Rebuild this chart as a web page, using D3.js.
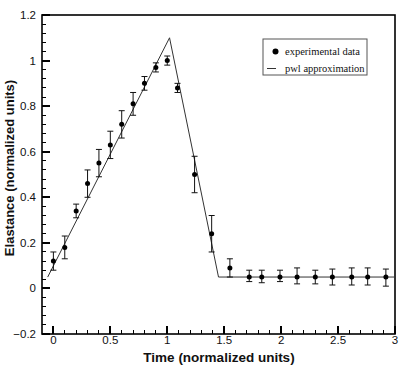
<!DOCTYPE html>
<html>
<head>
<meta charset="utf-8">
<script src="https://cdnjs.cloudflare.com/ajax/libs/d3/7.8.5/d3.min.js"></script>
<style>
  body { margin: 0; background: #fff; }
  svg { display: block; }
</style>
</head>
<body>
<svg id="chart" width="401" height="372"></svg>
<script>
// experimental data: time, elastance, error half-widths
let times  = [0.00, 0.10, 0.20, 0.30, 0.40, 0.50, 0.60, 0.70, 0.80, 0.90, 1.00, 1.09, 1.24, 1.39, 1.55, 1.72, 1.83, 1.99, 2.14, 2.30, 2.45, 2.62, 2.76, 2.92]
let values = [0.12, 0.18, 0.34, 0.46, 0.55, 0.63, 0.72, 0.81, 0.90, 0.97, 1.00, 0.88, 0.50, 0.24, 0.09, 0.05, 0.05, 0.05, 0.05, 0.05, 0.05, 0.05, 0.05, 0.05]
let errUp  = [0.04, 0.05, 0.03, 0.06, 0.06, 0.06, 0.06, 0.05, 0.03, 0.02, 0.02, 0.02, 0.08, 0.08, 0.04, 0.03, 0.03, 0.03, 0.04, 0.03, 0.035, 0.04, 0.04, 0.035]
let errDn  = [0.04, 0.05, 0.03, 0.06, 0.06, 0.06, 0.06, 0.05, 0.03, 0.02, 0.02, 0.02, 0.08, 0.08, 0.04, 0.02, 0.025, 0.02, 0.03, 0.03, 0.035, 0.035, 0.035, 0.04]

// piecewise linear approximation
let pwlT = [-0.05, 1.02, 1.45, 3.0]
let pwlE = [0.05, 1.10, 0.05, 0.05]

let xTicks = [0, 0.5, 1, 1.5, 2, 2.5, 3]
let yTicks = [-0.2, 0, 0.2, 0.4, 0.6, 0.8, 1, 1.2]

let svg = d3.select("#chart")
let margin = { top: 15, right: 6, bottom: 38, left: 42 }
let width = 401 - margin.left - margin.right
let height = 372 - margin.top - margin.bottom

let x = d3.scaleLinear().domain([-0.1, 3]).range([0, width])
let y = d3.scaleLinear().domain([-0.2, 1.2]).range([height, 0])

let g = svg.append('g').attr('transform', `translate(${margin.left},${margin.top})`)

let sans = 'Liberation Sans, Arial, sans-serif'

/* ---------------- ticks (inward) ---------------- */

let xMinor = d3.range(0, 30).map(i => i / 10).filter(v => Math.abs(v * 2 - Math.round(v * 2)) > 1e-6)
let yMinor = d3.range(-5, 31).map(i => i * 0.04).filter(v => Math.abs(v * 5 - Math.round(v * 5)) > 1e-6 && v > -0.2 && v < 1.2)

let ticks = g.append('g').attr('stroke', '#000').attr('shape-rendering', 'crispEdges')
ticks.selectAll('.xmaj').data(xTicks).enter().append('line')
    .attr('x1', d => x(d)).attr('x2', d => x(d)).attr('y1', height).attr('y2', height - 8)
    .attr('stroke-width', 2)
ticks.selectAll('.xmin').data(xMinor).enter().append('line')
    .attr('x1', d => x(d)).attr('x2', d => x(d)).attr('y1', height).attr('y2', height - 4)
    .attr('stroke-width', 1)
ticks.selectAll('.ymaj').data(yTicks).enter().append('line')
    .attr('y1', d => y(d)).attr('y2', d => y(d)).attr('x1', 0).attr('x2', 8)
    .attr('stroke-width', 2)
ticks.selectAll('.ymin').data(yMinor).enter().append('line')
    .attr('y1', d => y(d)).attr('y2', d => y(d)).attr('x1', 0).attr('x2', 4)
    .attr('stroke-width', 1)

g.append('g').selectAll('text').data(xTicks).enter().append('text')
    .attr('x', d => x(d)).attr('y', height + 10)
    .attr('text-anchor', 'middle')
    .attr('font-family', sans).attr('font-size', 11.5).attr('fill', '#111')
    .text(d3.format(''))

g.append('g').selectAll('text').data(yTicks).enter().append('text')
    .attr('x', -6).attr('y', d => y(d)).attr('dy', '0.35em')
    .attr('text-anchor', 'end')
    .attr('font-family', sans).attr('font-size', 11.5).attr('fill', '#111')
    .text(d3.format(''))

// frame
g.append('rect').attr('x', 0).attr('y', 0).attr('width', width).attr('height', height)
    .attr('fill', 'none').attr('stroke', '#000').attr('stroke-width', 1.6)

/* ---------------- pwl line ---------------- */

let line = d3.line().x(d => x(d[0])).y(d => y(d[1]))
g.append('path').datum(d3.zip(pwlT, pwlE))
    .attr('d', line).attr('fill', 'none').attr('stroke', '#333').attr('stroke-width', 1)

/* ---------------- error bars + points ---------------- */

let data = times.map((t, i) => ({ t: t, v: values[i], up: errUp[i], dn: errDn[i] }))
let bars = g.append('g').attr('stroke', '#111').attr('stroke-width', 1)
bars.selectAll('.stem').data(data).enter().append('line')
    .attr('x1', d => x(d.t)).attr('x2', d => x(d.t))
    .attr('y1', d => y(d.v + d.up)).attr('y2', d => y(d.v - d.dn))
bars.selectAll('.capt').data(data).enter().append('line')
    .attr('x1', d => x(d.t) - 3).attr('x2', d => x(d.t) + 3)
    .attr('y1', d => y(d.v + d.up)).attr('y2', d => y(d.v + d.up))
bars.selectAll('.capb').data(data).enter().append('line')
    .attr('x1', d => x(d.t) - 3).attr('x2', d => x(d.t) + 3)
    .attr('y1', d => y(d.v - d.dn)).attr('y2', d => y(d.v - d.dn))

g.append('g').selectAll('circle').data(data).enter().append('circle')
    .attr('cx', d => x(d.t)).attr('cy', d => y(d.v)).attr('r', 2.5).attr('fill', '#000')

/* ---------------- legend ---------------- */

let legend = svg.append('g').attr('transform', 'translate(263,39)')
legend.append('rect').attr('width', 104).attr('height', 36)
    .attr('fill', '#fff').attr('stroke', '#555').attr('stroke-width', 1)
legend.append('circle').attr('cx', 12.5).attr('cy', 12.5).attr('r', 3).attr('fill', '#000')
legend.append('line').attr('x1', 4).attr('x2', 13).attr('y1', 29.5).attr('y2', 29.5)
    .attr('stroke', '#333').attr('stroke-width', 1)
legend.selectAll('text').data(['experimental data', 'pwl approximation']).enter().append('text')
    .attr('x', 22).attr('y', (d, i) => 15.5 + i * 17.5)
    .attr('font-family', 'Liberation Serif, Times New Roman, serif').attr('font-size', 10.5)
    .attr('fill', '#111')
    .text(d => d)

/* ---------------- axis titles ---------------- */

svg.append('text')
    .attr('x', 219).attr('y', 362)
    .attr('text-anchor', 'middle')
    .attr('font-family', sans).attr('font-weight', 'bold')
    .attr('font-size', 13.5).attr('fill', '#111')
    .text('Time (normalized units)')

svg.append('text')
    .attr('transform', 'translate(14,168) rotate(-90)')
    .attr('text-anchor', 'middle')
    .attr('font-family', sans).attr('font-weight', 'bold')
    .attr('font-size', 13).attr('fill', '#111')
    .text('Elastance (normalized units)')
</script>
</body>
</html>
